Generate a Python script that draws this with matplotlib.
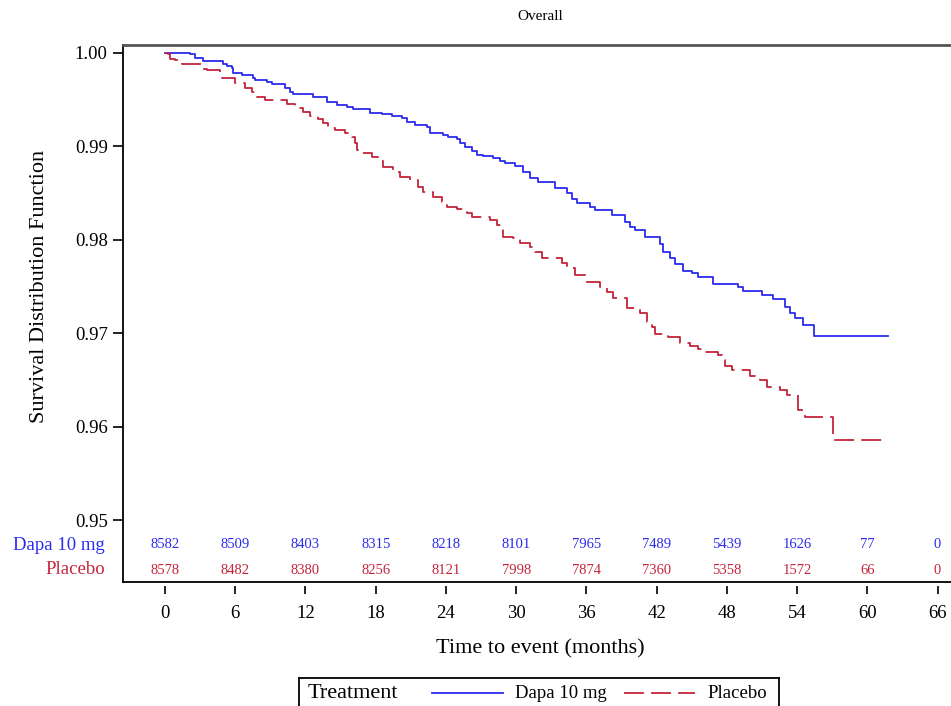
import matplotlib
matplotlib.use('Agg')
import matplotlib.pyplot as plt
from matplotlib.lines import Line2D
import matplotlib.transforms as mtransforms

plt.rcParams['font.family'] = ['Liberation Serif', 'DejaVu Serif']

BLUE = '#2B2BEE'
RED = '#C4243A'

# Kaplan-Meier step estimates: event times (months) and survival after each step
dapa_t = [0, 2.14, 2.56, 3.25, 4.96, 5.30, 5.73, 5.81, 6.58, 7.52, 7.69, 8.72, 9.15,
          10.26, 10.68, 10.94, 11.71, 12.65, 13.85, 14.70, 15.56, 16.07, 17.52, 18.55,
          19.40, 20.26, 20.68, 21.37, 22.39, 22.65, 23.76, 24.19, 24.96, 25.21, 25.64,
          26.24, 26.67, 27.18, 28.03, 28.63, 29.06, 29.91, 30.60, 31.20, 31.88, 33.33,
          34.36, 34.79, 35.21, 36.32, 36.75, 38.21, 39.32, 39.74, 40.17, 41.03, 42.31,
          42.56, 43.16, 43.59, 44.27, 45.04, 45.56, 46.84, 48.97, 49.40, 51.03, 51.97,
          52.99, 53.42, 53.85, 54.53, 55.47, 61.8]
dapa_s = [1.0, 0.99983, 0.99947, 0.99911, 0.99876, 0.99861, 0.99833, 0.99780, 0.99761,
          0.99733, 0.99708, 0.99683, 0.99662, 0.99626, 0.99583, 0.99561, 0.99555, 0.99529,
          0.99476, 0.99441, 0.99422, 0.99398, 0.99358, 0.99344, 0.99323, 0.99298, 0.99256,
          0.99227, 0.99202, 0.99138, 0.99120, 0.99095, 0.99074, 0.99031, 0.98995, 0.98952,
          0.98906, 0.98895, 0.98871, 0.98845, 0.98817, 0.98788, 0.98727, 0.98657, 0.98620,
          0.98550, 0.98503, 0.98432, 0.98396, 0.98353, 0.98318, 0.98264, 0.98193, 0.98133,
          0.98104, 0.98034, 0.97959, 0.97872, 0.97801, 0.97740, 0.97668, 0.97641, 0.97598,
          0.97523, 0.97497, 0.97455, 0.97409, 0.97363, 0.97275, 0.97219, 0.97159, 0.97093,
          0.96973, 0.96973]

placebo_t = [0, 0.26, 0.43, 0.85, 1.45, 3.16, 3.59, 4.70, 4.87, 5.98, 6.84, 7.44, 7.86,
             8.55, 10.43, 11.11, 11.54, 11.79, 12.39, 13.08, 13.50, 13.93, 14.53, 15.38,
             15.98, 16.24, 16.41, 16.84, 17.69, 18.21, 18.63, 19.49, 20.09, 20.94, 21.62,
             22.05, 22.91, 23.68, 24.10, 24.96, 25.81, 26.24, 27.78, 28.38, 28.80, 28.89,
             29.74, 30.34, 31.20, 31.62, 32.22, 33.93, 34.36, 35.04, 36.07, 37.18, 37.78,
             38.29, 39.49, 40.60, 41.20, 41.62, 41.88, 42.99, 44.02, 44.87, 45.56, 46.15,
             47.26, 47.61, 47.86, 48.46, 50.00, 50.85, 51.45, 52.56, 53.16, 54.10, 54.70,
             57.09, 61.8]
placebo_s = [1.0, 0.99983, 0.99933, 0.99922, 0.99876, 0.99826, 0.99812, 0.99761, 0.99733,
             0.99673, 0.99619, 0.99583, 0.99529, 0.99494, 0.99448, 0.99422, 0.99405, 0.99369,
             0.99326, 0.99291, 0.99245, 0.99195, 0.99173, 0.99138, 0.99102, 0.99031, 0.98959,
             0.98930, 0.98888, 0.98845, 0.98774, 0.98727, 0.98667, 0.98639, 0.98567, 0.98513,
             0.98460, 0.98406, 0.98353, 0.98325, 0.98289, 0.98246, 0.98211, 0.98157, 0.98122,
             0.98032, 0.98015, 0.97961, 0.97927, 0.97872, 0.97801, 0.97748, 0.97694, 0.97622,
             0.97551, 0.97497, 0.97444, 0.97373, 0.97266, 0.97213, 0.97123, 0.97070, 0.96991,
             0.96963, 0.96898, 0.96863, 0.96828, 0.96802, 0.96767, 0.96713, 0.96649, 0.96606,
             0.96542, 0.96499, 0.96428, 0.96393, 0.96339, 0.96179, 0.96109, 0.95858, 0.95858]

risk_times = [0, 6, 12, 18, 24, 30, 36, 42, 48, 54, 60, 66]
dapa_risk = [8582, 8509, 8403, 8315, 8218, 8101, 7965, 7489, 5439, 1626, 77, 0]
placebo_risk = [8578, 8482, 8380, 8256, 8121, 7998, 7874, 7360, 5358, 1572, 66, 0]

W, H = 951, 706
fig = plt.figure(figsize=(W / 100, H / 100), dpi=100)

# main plot area (right edge runs off the page)
ax = fig.add_axes([123 / W, 1 - 582 / H, 845 / W, 537 / H])
ax.step(dapa_t, dapa_s, where='post', color=BLUE, lw=1.3)
ax.step(placebo_t, placebo_s, where='post', color=RED, lw=1.3, dashes=(11, 4))

ax.set_xlim(-3.59, 68.6)
ax.set_ylim(0.94339, 1.000824)
ax.set_yticks([0.95, 0.96, 0.97, 0.98, 0.99, 1.00])
ax.set_yticklabels(['0.95', '0.96', '0.97', '0.98', '0.99', '1.00'])
ax.tick_params(axis='y', length=7, width=1.2, pad=4, labelsize=13.5)
ax.set_xticks([])
ax.spines['right'].set_visible(False)
ax.spines['top'].set_color('#555555')
ax.spines['top'].set_linewidth(2)
ax.spines['left'].set_linewidth(1.3)
ax.spines['bottom'].set_linewidth(1.3)

ax.set_ylabel('Survival Distribution Function', fontsize=16)
ax.yaxis.set_label_coords(-0.087, (582 - 286) / 537)

# detached x axis below the frame
sec = ax.secondary_xaxis(-4 / 537)
sec.set_xticks(risk_times)
sec.spines['bottom'].set_visible(False)
sec.tick_params(axis='x', length=5.5, width=1.2, pad=8, labelsize=13.5)
fig.text(540 / W, 1 - 649 / H, 'Time to event (months)', fontsize=16,
         ha='center', va='center')

fig.text(540 / W, 1 - 17 / H, 'Overall', fontsize=11, ha='center', va='center')

# numbers at risk inside the plot
trans = mtransforms.blended_transform_factory(ax.transData, ax.transAxes)
for t, n in zip(risk_times, dapa_risk):
    ax.text(t, (582 - 545) / 537, str(n), transform=trans, color=BLUE,
            fontsize=10.5, ha='center', va='center')
for t, n in zip(risk_times, placebo_risk):
    ax.text(t, (582 - 570) / 537, str(n), transform=trans, color=RED,
            fontsize=10.5, ha='center', va='center')
fig.text(105 / W, 1 - 545 / H, 'Dapa 10 mg', color=BLUE, fontsize=13.5,
         ha='right', va='center')
fig.text(105 / W, 1 - 570 / H, 'Placebo', color=RED, fontsize=13.5,
         ha='right', va='center')

# legend box at the bottom
lax = fig.add_axes([299 / W, -20 / H, 480 / W, 48 / H])
lax.set_xlim(299, 779)
lax.set_ylim(726, 678)
lax.set_xticks([])
lax.set_yticks([])
for s in lax.spines.values():
    s.set_linewidth(1.3)
ly = 693
lax.text(308, ly, 'Treatment', fontsize=16, ha='left', va='center')
lax.add_line(Line2D([432, 503], [ly, ly], color=BLUE, lw=1.3))
lax.text(515, ly, 'Dapa 10 mg', fontsize=13.5, ha='left', va='center')
lax.add_line(Line2D([624, 695], [ly, ly], color=RED, lw=1.3, dashes=(11, 4)))
lax.text(707, ly, 'Placebo', fontsize=13.5, ha='left', va='center')

fig.savefig('out.png', dpi=100)
